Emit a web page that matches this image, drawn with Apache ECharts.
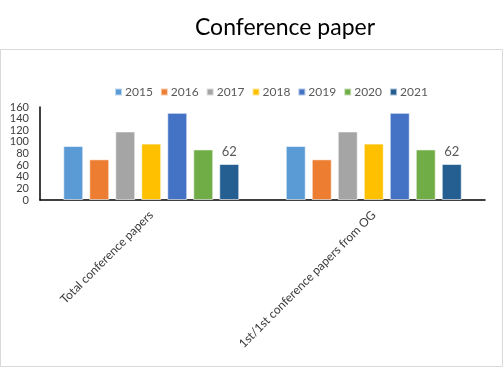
<!DOCTYPE html>
<html>
<head>
<meta charset="utf-8">
<script src="https://cdn.jsdelivr.net/npm/echarts@6/dist/echarts.min.js"></script>
<style>html,body{margin:0;padding:0;background:#fff}#c{width:504px;height:369px}</style>
</head>
<body>
<div id="c"></div>
<script>
var categories = ['Total conference papers', '1st/1st conference papers from OG'];
var years = ['2015', '2016', '2017', '2018', '2019', '2020', '2021'];
var v2015 = [93, 93];
var v2016 = [70, 70];
var v2017 = [118, 118];
var v2018 = [97, 97];
var v2019 = [150, 150];
var v2020 = [87, 87];
var v2021 = [62, 62];
var yTicks = [0, 20, 40, 60, 80, 100, 120, 140, 160];

var seriesValues = [v2015, v2016, v2017, v2018, v2019, v2020, v2021];
var colors = ['#5B9BD5', '#ED7D31', '#A5A5A5', '#FFC000', '#4472C4', '#70AD47', '#255E91'];
var FONT = 'Lato, "Open Sans", sans-serif';

var chart = echarts.init(document.getElementById('c'), null, {renderer: 'canvas'});
var series = years.map(function (y, i) {
  return {
    name: y,
    type: 'bar',
    data: seriesValues[i],
    barWidth: 20,
    barGap: '30%',
    itemStyle: {color: colors[i], borderColor: 'rgba(255,255,255,0.6)', borderWidth: 1},
    label: {
      show: i === years.length - 1,
      position: 'top',
      distance: 6,
      color: '#595959',
      fontSize: 13,
      fontFamily: FONT
    }
  };
});

chart.setOption({
  animation: false,
  color: colors,
  title: {
    text: 'Conference paper',
    left: 280,
    textAlign: 'center',
    top: 11,
    textStyle: {fontFamily: FONT, fontSize: 23, fontWeight: 'normal', color: '#000'}
  },
  graphic: [{
    type: 'rect',
    shape: {x: 0.5, y: 49.5, width: 502, height: 317},
    style: {fill: 'none', stroke: '#D9D9D9', lineWidth: 1},
    silent: true,
    z: -1
  }],
  legend: {
    data: years,
    top: 81,
    left: 109,
    itemWidth: 7,
    itemHeight: 7,
    itemGap: 7,
    icon: 'rect',
    textStyle: {fontFamily: FONT, fontSize: 12, color: '#595959', padding: [0, 0, 0, -2]}
  },
  grid: {left: 40, right: 19, top: 107, bottom: 169, containLabel: false},
  xAxis: {
    type: 'category',
    data: categories,
    axisLine: {lineStyle: {color: '#000', width: 1.5}},
    axisTick: {show: false},
    axisLabel: {rotate: 45, margin: 13, fontFamily: FONT, fontSize: 12, color: '#3a3a3a', interval: 0}
  },
  yAxis: {
    type: 'value',
    min: yTicks[0],
    max: yTicks[yTicks.length - 1],
    interval: 20,
    axisLine: {show: true, lineStyle: {color: '#000', width: 1.5}},
    axisTick: {show: false},
    splitLine: {show: false},
    axisLabel: {margin: 11, fontFamily: FONT, fontSize: 11, color: '#404040', showMinLabel: true, showMaxLabel: true, hideOverlap: false}
  },
  series: series
});
</script>
</body>
</html>
